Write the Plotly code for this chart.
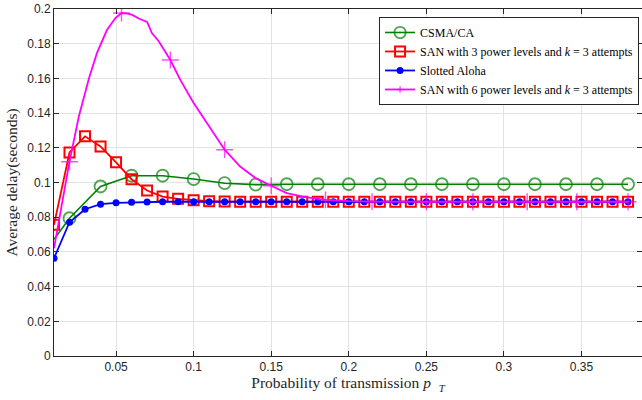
import plotly.graph_objects as go

# ---------------- data ----------------
x_red = [round(0.01 * i, 2) for i in range(1, 39)]
y_red = [0.0756, 0.1173, 0.1266, 0.1208, 0.1116, 0.1019, 0.0954, 0.0919, 0.0906, 0.0898,
         0.0892, 0.0890, 0.0889, 0.0889, 0.0889, 0.0889, 0.0889, 0.0889, 0.0889, 0.0889,
         0.0889, 0.0889, 0.0889, 0.0889, 0.0889, 0.0889, 0.0889, 0.0889, 0.0889, 0.0889,
         0.0889, 0.0889, 0.0889, 0.0889, 0.0889, 0.0889, 0.0889, 0.0889]

x_blue = x_red
y_blue = [0.0564, 0.0771, 0.0846, 0.0875, 0.0883, 0.0886, 0.0888, 0.0889, 0.0889, 0.0889,
          0.0889, 0.0889, 0.0889, 0.0889, 0.0889, 0.0889, 0.0889, 0.0889, 0.0889, 0.0889,
          0.0889, 0.0889, 0.0889, 0.0889, 0.0889, 0.0889, 0.0889, 0.0889, 0.0889, 0.0889,
          0.0889, 0.0889, 0.0889, 0.0889, 0.0889, 0.0889, 0.0889, 0.0889]

x_green = [0.01, 0.02, 0.04, 0.06, 0.08, 0.10, 0.12, 0.14, 0.16, 0.18, 0.20, 0.22, 0.24,
           0.26, 0.28, 0.30, 0.32, 0.34, 0.36, 0.38]
y_green = [0.0673, 0.0794, 0.0977, 0.1039, 0.1039, 0.1020, 0.0996, 0.0988, 0.0990, 0.0990,
           0.0990, 0.0990, 0.0990, 0.0990, 0.0990, 0.0990, 0.0990, 0.0990, 0.0990, 0.0990]
green_marked = [False] + [True] * 19

x_mag = [0.010, 0.020, 0.026, 0.0325, 0.0377, 0.0442, 0.0496, 0.0535, 0.0575, 0.0605,
         0.0646, 0.0700, 0.0732, 0.0775, 0.0850, 0.0915, 0.1000, 0.1098, 0.1200, 0.1300,
         0.1400, 0.1500, 0.1600, 0.1720, 0.1850, 0.2000, 0.2150, 0.2500, 0.2800, 0.3150,
         0.3470, 0.3800]
y_mag = [0.0621, 0.1120, 0.1380, 0.1600, 0.1747, 0.1880, 0.1948, 0.1977, 0.1973, 0.1966,
         0.1945, 0.1925, 0.1860, 0.1814, 0.1706, 0.1590, 0.1458, 0.1323, 0.1189, 0.1092,
         0.1025, 0.0981, 0.0939, 0.0916, 0.0900, 0.0893, 0.0890, 0.0889, 0.0889, 0.0889,
         0.0889, 0.0889]
mag_marked = [False, True, False, False, False, False, False, True, False, False,
              False, False, False, False, True, False, False, False, True, False,
              False, True, False, False, True, False, True, True, True, True,
              True, True]

x_ticks = [0.05, 0.1, 0.15, 0.2, 0.25, 0.3, 0.35]
x_tick_labels = ["0.05", "0.1", "0.15", "0.2", "0.25", "0.3", "0.35"]
y_ticks = [0, 0.02, 0.04, 0.06, 0.08, 0.1, 0.12, 0.14, 0.16, 0.18, 0.2]
y_tick_labels = ["0", "0.02", "0.04", "0.06", "0.08", "0.1", "0.12", "0.14", "0.16", "0.18", "0.2"]

names = ["CSMA/CA",
         "SAN with 3 power levels and <i>k</i> = 3 attempts",
         "Slotted Aloha",
         "SAN with 6 power levels and <i>k</i> = 3 attempts"]

# ---------------- figure ----------------
fig = go.Figure()

fig.add_trace(go.Scatter(
    x=x_green, y=y_green, name=names[0], mode="lines+markers",
    line=dict(color="#008000", width=1.6),
    marker=dict(symbol="circle-open", size=[12 if m else 0 for m in green_marked],
                color="#008000", line=dict(width=1.8, color="#008000")),
))
fig.add_trace(go.Scatter(
    x=x_red, y=y_red, name=names[1], mode="lines+markers",
    line=dict(color="#ff0000", width=1.8),
    marker=dict(symbol="square-open", size=10, color="#ff0000",
                line=dict(width=2, color="#ff0000")),
))
fig.add_trace(go.Scatter(
    x=x_blue, y=y_blue, name=names[2], mode="lines+markers",
    line=dict(color="#0000ff", width=1.8),
    marker=dict(symbol="circle", size=7, color="#0000ff"),
))
fig.add_trace(go.Scatter(
    x=x_mag, y=y_mag, name=names[3], mode="lines+markers",
    line=dict(color="#ff00ff", width=1.8),
    marker=dict(symbol="cross-thin", size=[12 if m else 0 for m in mag_marked],
                color="#ff00ff", line=dict(width=1.4, color="#ff00ff")),
))

axis_common = dict(
    showgrid=True, gridcolor="#e3e3e3", gridwidth=1,
    showline=True, linecolor="#262626", linewidth=1, mirror="ticks",
    ticks="inside", ticklen=5, tickcolor="#262626",
    tickfont=dict(family="Liberation Sans, Arial, sans-serif", size=12, color="#262626"),
    zeroline=False,
)

title_font = dict(family="Liberation Serif, DejaVu Serif, serif", size=15.5, color="#262626")

fig.update_layout(
    width=642, height=400,
    margin=dict(l=54, r=0, t=9, b=44),
    paper_bgcolor="white", plot_bgcolor="white",
    xaxis=dict(range=[0.01, 0.389], tickvals=x_ticks, ticktext=x_tick_labels,
               title=dict(text="Probability of transmission <i>p</i>&nbsp;&nbsp;<sub><i>T</i></sub>",
                          font=title_font, standoff=2),
               **axis_common),
    yaxis=dict(range=[0, 0.2], tickvals=y_ticks, ticktext=y_tick_labels,
               title=dict(text="Average delay(seconds)", font=title_font, standoff=5),
               **axis_common),
    legend=dict(
        x=0.995, y=0.977, xanchor="right", yanchor="top",
        bgcolor="white", bordercolor="#262626", borderwidth=1,
        font=dict(family="Liberation Serif, DejaVu Serif, serif", size=12, color="#000000"),
        itemwidth=30, tracegroupgap=0,
    ),
    showlegend=True,
)

fig.write_html("out.html")
